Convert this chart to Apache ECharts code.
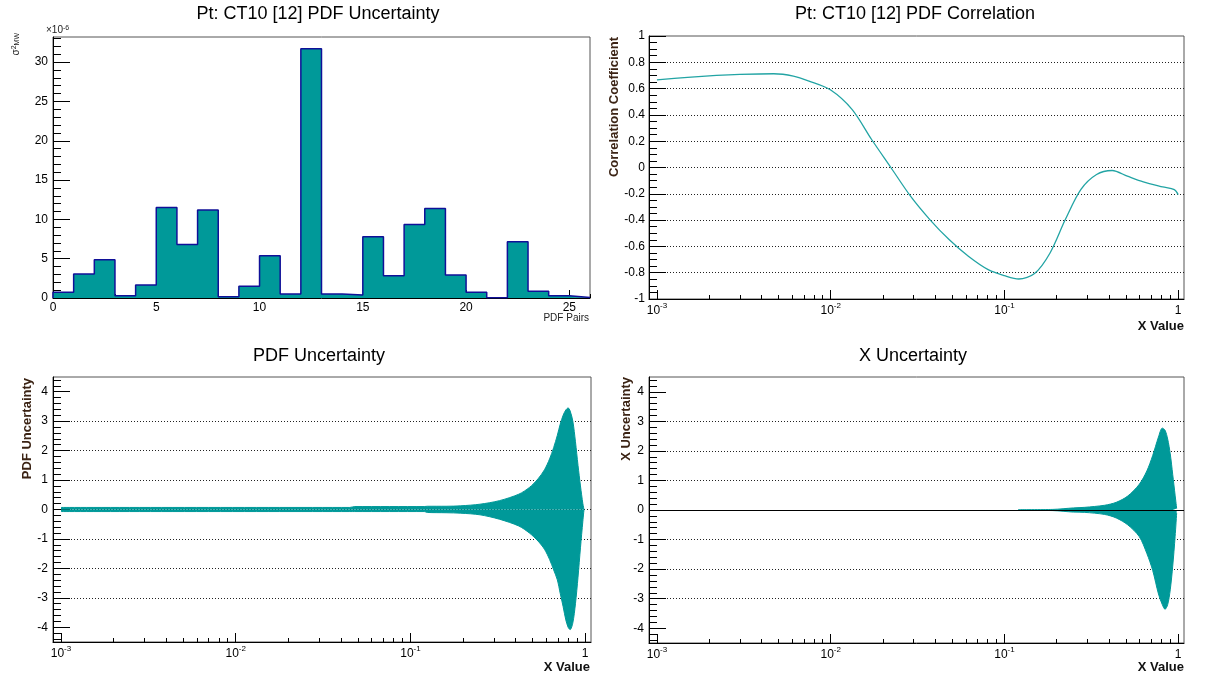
<!DOCTYPE html>
<html><head><meta charset="utf-8">
<script src="https://cdn.jsdelivr.net/npm/echarts@6/dist/echarts.min.js"></script>
<style>html,body{margin:0;padding:0;background:#fff}#c{width:1209px;height:678px}</style>
</head><body><div id="c"></div>
<script>
// ---------- DATA ----------
// Histogram: sigma^2_MW (x 1e-6) per PDF pair bin [i, i+1)
const histBinEdges = [0,1,2,3,4,5,6,7,8,9,10,11,12,13,14,15,16,17,18,19,20,21,22,23,24,25,26];
const histValues = [0.72,3.05,4.87,0.3,1.65,11.5,6.8,11.2,0.17,1.48,5.37,0.5,31.7,0.5,0.38,7.8,2.83,9.35,11.4,2.92,0.72,0.04,7.15,0.85,0.3,0.05];
const histXMajor = [0,5,10,15,20,25];
const histXMinor = [0,1,2,3,4,5,6,7,8,9,10,11,12,13,14,15,16,17,18,19,20,21,22,23,24,25,26];
const histYMajor = [0,5,10,15,20,25,30];
const histYMinor = [0,1,2,3,4,5,6,7,8,9,10,11,12,13,14,15,16,17,18,19,20,21,22,23,24,25,26,27,28,29,30,31,32,33];

// Correlation coefficient vs x
const corrX = [0.001,0.0015,0.0022,0.003,0.0047,0.0061,0.0075,0.01,0.0133,0.0172,0.0222,0.0288,0.0372,0.048,0.062,0.0806,0.1,0.121,0.149,0.183,0.224,0.275,0.339,0.417,0.51,0.63,0.814,0.95,1.0];
const corrY = [0.667,0.685,0.70,0.708,0.713,0.695,0.657,0.589,0.44,0.213,0.0,-0.218,-0.396,-0.548,-0.675,-0.777,-0.822,-0.848,-0.807,-0.65,-0.396,-0.168,-0.053,-0.023,-0.066,-0.109,-0.147,-0.168,-0.206];

// PDF uncertainty band envelope
const pdfX = [0.001,0.045,0.048,0.12,0.125,0.16,0.194,0.25,0.323,0.417,0.48,0.537,0.585,0.626,0.66,0.693,0.72,0.748,0.775,0.799,0.82,0.85,0.88,0.91,0.94,0.97,0.985];
const pdfUpper = [0.07,0.07,0.1,0.1,0.11,0.11,0.125,0.18,0.30,0.52,0.75,1.04,1.35,1.72,2.1,2.52,2.9,3.2,3.38,3.45,3.35,3.0,2.3,1.5,0.8,0.2,0];
const pdfLower = [-0.07,-0.07,-0.07,-0.07,-0.1,-0.11,-0.125,-0.18,-0.33,-0.56,-0.8,-1.07,-1.35,-1.7,-2.05,-2.39,-2.85,-3.3,-3.75,-4.0,-4.08,-3.85,-3.2,-2.3,-1.3,-0.4,0];

// X uncertainty band envelope
const xuX = [0.12,0.19,0.249,0.29,0.377,0.44,0.512,0.597,0.66,0.713,0.77,0.81,0.84,0.87,0.90,0.93,0.96,0.98];
const xuUpper = [0.01,0.02,0.07,0.09,0.16,0.26,0.47,0.87,1.32,1.84,2.47,2.77,2.7,2.4,1.9,1.2,0.5,0.05];
const xuLower = [-0.01,-0.02,-0.07,-0.08,-0.15,-0.27,-0.5,-0.9,-1.47,-2.04,-2.84,-3.2,-3.36,-3.2,-2.7,-1.9,-0.9,-0.1];

// Axis tick values
const logMajor = [0.001,0.01,0.1,1];
const logMinor = [0.002,0.003,0.004,0.005,0.006,0.007,0.008,0.009,0.02,0.03,0.04,0.05,0.06,0.07,0.08,0.09,0.2,0.3,0.4,0.5,0.6,0.7,0.8,0.9];
const uncYMajor = [-4,-3,-2,-1,0,1,2,3,4];
const uncYMinor = [-4.4,-4.2,-4,-3.8,-3.6,-3.4,-3.2,-3,-2.8,-2.6,-2.4,-2.2,-2,-1.8,-1.6,-1.4,-1.2,-1,-0.8,-0.6,-0.4,-0.2,0,0.2,0.4,0.6,0.8,1,1.2,1.4,1.6,1.8,2,2.2,2.4,2.6,2.8,3,3.2,3.4,3.6,3.8,4,4.2,4.4];

// ---------- LAYOUT / STYLE ----------
const FONT = '"Liberation Sans", Arial, Helvetica, sans-serif';
const TEAL = '#009999';
const TITLE_COL = '#3b2314';
const R = {
  tl: {left: 53, top: 37, width: 537, height: 261},
  tr: {left: 649, top: 36, width: 535, height: 263},
  bl: {left: 53, top: 377, width: 538, height: 265},
  br: {left: 649, top: 377, width: 535, height: 266}
};
const LOGMIN = 9.0e-4, LOGMAX = 1.08;

function grid(r, show) {
  return {left: r.left, top: r.top, width: r.width, height: r.height, show: show,
    borderColor: '#555', borderWidth: 1, backgroundColor: 'rgba(0,0,0,0)'};
}
const richLog = {
  b: {fontSize: 12, fontFamily: FONT, color: '#000', lineHeight: 15, verticalAlign: 'bottom'},
  s: {fontSize: 8, fontFamily: FONT, color: '#000', lineHeight: 8, verticalAlign: 'top'}
};
function logFmt(v) {
  const e = Math.round(Math.log10(v));
  return e === 0 ? '{b|1}' : '{b|10}{s|' + e + '}';
}
function xMain(gi, type, min, max, ticks, len, extraLabel) {
  const a = {type: type, gridIndex: gi, min: min, max: max,
    axisLine: {show: true, onZero: false, lineStyle: {color: '#000', width: 1}},
    axisTick: {show: true, inside: true, length: len, customValues: ticks, lineStyle: {color: '#000', width: 1}},
    axisLabel: Object.assign({customValues: ticks, color: '#000', fontFamily: FONT, fontSize: 12, margin: 3}, extraLabel || {}),
    splitLine: {show: false}, minorTick: {show: false}};
  if (type === 'log') a.logBase = 10;
  return a;
}
function xMinor(gi, type, min, max, ticks) {
  const a = {type: type, gridIndex: gi, min: min, max: max,
    axisLine: {show: false, onZero: false},
    axisTick: {show: true, inside: true, length: 4, customValues: ticks, lineStyle: {color: '#000', width: 1}},
    axisLabel: {show: false}, splitLine: {show: false}};
  if (type === 'log') a.logBase = 10;
  return a;
}
function yMinor(gi, min, max, ticks) {
  return {type: 'value', gridIndex: gi, min: min, max: max,
    axisLine: {show: false, onZero: false},
    axisTick: {show: true, inside: true, length: 8, customValues: ticks, lineStyle: {color: '#000', width: 1}},
    axisLabel: {show: false}, splitLine: {show: false}};
}
const dotted = {show: true, showMinLine: false, showMaxLine: false, lineStyle: {color: '#222', type: [1, 2], width: 1}};

// histogram outline points built from the bin values
const histStep = [[histBinEdges[0], 0]]
  .concat(histValues.map((v, i) => [histBinEdges[i], v]))
  .concat([[histBinEdges[histBinEdges.length - 1], histValues[histValues.length - 1]], [histBinEdges[histBinEdges.length - 1], 0]]);

const zip = (xs, ys) => xs.map((x, i) => [x, ys[i]]);

const option = {
  animation: false,
  backgroundColor: '#fff',
  grid: [grid(R.tl, true), grid(R.tl, false), grid(R.tr, true), grid(R.tr, false),
         grid(R.bl, true), grid(R.bl, false), grid(R.br, true), grid(R.br, false)],
  xAxis: [
    xMain(0, 'value', 0, 26, histXMajor, 8, {margin: 4}),
    xMinor(1, 'value', 0, 26, histXMinor),
    xMain(2, 'log', LOGMIN, LOGMAX, logMajor, 9, {formatter: logFmt, rich: richLog, margin: 3}),
    xMinor(3, 'log', LOGMIN, LOGMAX, logMinor),
    xMain(4, 'log', LOGMIN, LOGMAX, logMajor, 9, {formatter: logFmt, rich: richLog, margin: 3}),
    xMinor(5, 'log', LOGMIN, LOGMAX, logMinor),
    xMain(6, 'log', LOGMIN, LOGMAX, logMajor, 9, {formatter: logFmt, rich: richLog, margin: 3}),
    xMinor(7, 'log', LOGMIN, LOGMAX, logMinor)
  ],
  yAxis: [
    {type: 'value', gridIndex: 0, min: 0, max: 33.2,
      axisLine: {show: true, onZero: false, lineStyle: {color: '#000'}},
      axisTick: {show: true, inside: true, length: 17, customValues: histYMajor, lineStyle: {color: '#000'}},
      axisLabel: {customValues: histYMajor, color: '#000', fontFamily: FONT, fontSize: 12, margin: 5},
      splitLine: {show: false}},
    yMinor(1, 0, 33.2, histYMinor),
    {type: 'value', gridIndex: 2, min: -1, max: 1, interval: 0.2,
      axisLine: {show: true, onZero: false, lineStyle: {color: '#000'}},
      axisTick: {show: true, inside: true, length: 17, lineStyle: {color: '#000'}},
      minorTick: {show: true, splitNumber: 4, length: 8, lineStyle: {color: '#000'}},
      axisLabel: {color: '#000', fontFamily: FONT, fontSize: 12, margin: 4, showMinLabel: true, showMaxLabel: true},
      splitLine: dotted},
    {type: 'value', gridIndex: 3, min: -1, max: 1, show: false},
    {type: 'value', gridIndex: 4, min: -4.5, max: 4.5, splitNumber: 9,
      axisLine: {show: true, onZero: false, lineStyle: {color: '#000'}},
      axisTick: {show: true, inside: true, length: 17, customValues: uncYMajor, lineStyle: {color: '#000'}},
      axisLabel: {customValues: uncYMajor, color: '#000', fontFamily: FONT, fontSize: 12, margin: 5},
      splitLine: dotted},
    yMinor(5, -4.5, 4.5, uncYMinor),
    {type: 'value', gridIndex: 6, min: -4.5, max: 4.5, splitNumber: 9,
      axisLine: {show: true, onZero: false, lineStyle: {color: '#000'}},
      axisTick: {show: true, inside: true, length: 17, customValues: uncYMajor, lineStyle: {color: '#000'}},
      axisLabel: {customValues: uncYMajor, color: '#000', fontFamily: FONT, fontSize: 12, margin: 5},
      splitLine: dotted},
    yMinor(7, -4.5, 4.5, uncYMinor)
  ],
  series: [
    {type: 'line', xAxisIndex: 0, yAxisIndex: 0, step: 'end', data: histStep, symbol: 'none',
      lineStyle: {color: '#101098', width: 1.5}, areaStyle: {color: TEAL, opacity: 1}, z: 3},
    {type: 'line', xAxisIndex: 2, yAxisIndex: 2, data: zip(corrX, corrY), smooth: 0.3, symbol: 'none',
      lineStyle: {color: '#22a4a4', width: 1.3}},
    {type: 'line', xAxisIndex: 4, yAxisIndex: 4, data: zip(pdfX, pdfUpper), smooth: 0.3, symbol: 'none',
      lineStyle: {color: TEAL, width: 1}, areaStyle: {color: TEAL, opacity: 1}},
    {type: 'line', xAxisIndex: 4, yAxisIndex: 4, data: zip(pdfX, pdfLower), smooth: 0.3, symbol: 'none',
      lineStyle: {color: TEAL, width: 1}, areaStyle: {color: TEAL, opacity: 1}},
    {type: 'line', xAxisIndex: 6, yAxisIndex: 6, data: zip(xuX, xuUpper), smooth: 0.3, symbol: 'none',
      lineStyle: {color: TEAL, width: 1}, areaStyle: {color: TEAL, opacity: 1},
      markLine: {silent: true, symbol: ['none', 'none'], label: {show: false},
        lineStyle: {color: '#000', type: 'solid', width: 1.2}, data: [{yAxis: 0}]}},
    {type: 'line', xAxisIndex: 6, yAxisIndex: 6, data: zip(xuX, xuLower), smooth: 0.3, symbol: 'none',
      lineStyle: {color: TEAL, width: 1}, areaStyle: {color: TEAL, opacity: 1}}
  ],
  graphic: [
    {type: 'text', x: 318, y: 14, style: {text: 'Pt: CT10 [12] PDF Uncertainty', fontFamily: FONT, fontSize: 18, fill: '#000', align: 'center', verticalAlign: 'middle'}},
    {type: 'text', x: 915, y: 14, style: {text: 'Pt: CT10 [12] PDF Correlation', fontFamily: FONT, fontSize: 18, fill: '#000', align: 'center', verticalAlign: 'middle'}},
    {type: 'text', x: 319, y: 356, style: {text: 'PDF Uncertainty', fontFamily: FONT, fontSize: 18, fill: '#000', align: 'center', verticalAlign: 'middle'}},
    {type: 'text', x: 913, y: 356, style: {text: 'X Uncertainty', fontFamily: FONT, fontSize: 18, fill: '#000', align: 'center', verticalAlign: 'middle'}},
    {type: 'text', x: 46, y: 30, style: {text: '×10{s|-6}', fontFamily: FONT, fontSize: 10, fill: '#222', align: 'left', verticalAlign: 'middle',
      rich: {s: {fontSize: 7, fontFamily: FONT, fill: '#222', verticalAlign: 'top', lineHeight: 7}}}},
    {type: 'text', x: 16, y: 33, rotation: Math.PI / 2, style: {text: 'σ{s|2}{u|MW}', fontFamily: FONT, fontSize: 10, fill: '#222', align: 'right', verticalAlign: 'middle',
      rich: {s: {fontSize: 7, fontFamily: FONT, verticalAlign: 'top', lineHeight: 7}, u: {fontSize: 7, fontFamily: FONT, verticalAlign: 'bottom', lineHeight: 7}}}},
    {type: 'text', x: 589, y: 318, style: {text: 'PDF Pairs', fontFamily: FONT, fontSize: 10, fill: '#222', align: 'right', verticalAlign: 'middle'}},
    {type: 'text', x: 614, y: 37, rotation: Math.PI / 2, style: {text: 'Correlation Coefficient', fontFamily: FONT, fontSize: 13, fontWeight: 'bold', fill: TITLE_COL, align: 'right', verticalAlign: 'middle'}},
    {type: 'text', x: 1184, y: 326, style: {text: 'X Value', fontFamily: FONT, fontSize: 13, fontWeight: 'bold', fill: '#111', align: 'right', verticalAlign: 'middle'}},
    {type: 'text', x: 27, y: 378, rotation: Math.PI / 2, style: {text: 'PDF Uncertainty', fontFamily: FONT, fontSize: 13, fontWeight: 'bold', fill: TITLE_COL, align: 'right', verticalAlign: 'middle'}},
    {type: 'text', x: 590, y: 667, style: {text: 'X Value', fontFamily: FONT, fontSize: 13, fontWeight: 'bold', fill: '#111', align: 'right', verticalAlign: 'middle'}},
    {type: 'text', x: 626, y: 377, rotation: Math.PI / 2, style: {text: 'X Uncertainty', fontFamily: FONT, fontSize: 13, fontWeight: 'bold', fill: TITLE_COL, align: 'right', verticalAlign: 'middle'}},
    {type: 'text', x: 1184, y: 667, style: {text: 'X Value', fontFamily: FONT, fontSize: 13, fontWeight: 'bold', fill: '#111', align: 'right', verticalAlign: 'middle'}}
  ]
};
const chart = echarts.init(document.getElementById('c'));
chart.setOption(option);
</script>
</body></html>
